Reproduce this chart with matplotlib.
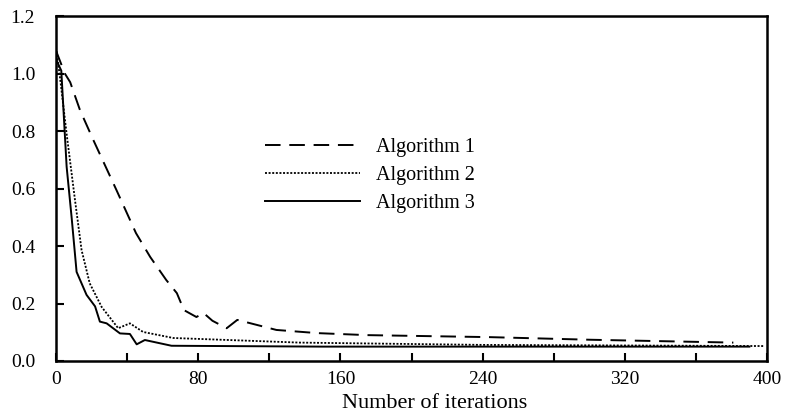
import numpy as np
import matplotlib
matplotlib.use('Agg')
import matplotlib.pyplot as plt
from matplotlib.ticker import MultipleLocator, FormatStrFormatter

plt.rcParams['font.family'] = ['Liberation Serif', 'DejaVu Serif']

# Algorithm 1 (dashed)
x1 = [0, 5, 8, 13.5, 21, 34, 45, 53, 62, 68, 72, 79, 83, 88, 96, 102, 124, 147, 175, 244, 300, 381]
y1 = [1.08, 1.0, 0.97, 0.873, 0.769, 0.595, 0.445, 0.362, 0.282, 0.236, 0.177, 0.153, 0.167, 0.14, 0.114, 0.143, 0.108, 0.097, 0.09, 0.083, 0.074, 0.064]

# Algorithm 2 (dotted)
x2 = [0, 2.2, 6, 10.7, 14.4, 19, 25.7, 35, 41.6, 49, 66, 137, 240, 398]
y2 = [1.09, 0.99, 0.79, 0.56, 0.386, 0.27, 0.188, 0.114, 0.131, 0.101, 0.08, 0.064, 0.056, 0.052]

# Algorithm 3 (solid)
x3 = [0, 3, 6, 8.8, 11.6, 17.2, 22, 24.7, 28.5, 36, 41.6, 45.4, 50, 65, 150, 390]
y3 = [1.05, 1.01, 0.676, 0.50, 0.31, 0.23, 0.19, 0.137, 0.131, 0.096, 0.094, 0.058, 0.073, 0.053, 0.05, 0.05]

fig = plt.figure(figsize=(7.86, 4.12), dpi=100)
ax = fig.add_axes([0.0712, 0.1238, 0.9048, 0.8372])

ax.plot(x1, y1, color='black', lw=1.4, dashes=(8, 4.5), label='Algorithm 1')
ax.plot(x2, y2, color='black', lw=1.3, dashes=(1.1, 0.9), label='Algorithm 2')
ax.plot(x3, y3, color='black', lw=1.4, label='Algorithm 3')

ax.set_xlim(0, 400)
ax.set_ylim(0, 1.2)
ax.xaxis.set_major_locator(MultipleLocator(80))
ax.xaxis.set_minor_locator(MultipleLocator(40))
ax.yaxis.set_major_locator(MultipleLocator(0.2))
ax.yaxis.set_major_formatter(FormatStrFormatter('%.1f'))
ax.tick_params(which='both', direction='in', length=6, width=1.5, labelsize=14)
ax.tick_params(axis='y', pad=15)
ax.tick_params(axis='x', pad=7)
for s in ax.spines.values():
    s.set_linewidth(1.8)

ax.set_xlabel('Number of iterations', fontsize=16)
ax.xaxis.set_label_coords(0.533, -0.095)
ax.legend(loc='center', bbox_to_anchor=(0.442, 0.538), frameon=False, fontsize=14.5,
          handlelength=4.7, handletextpad=0.8, labelspacing=0.45)

fig.savefig('out.png', dpi=100)
